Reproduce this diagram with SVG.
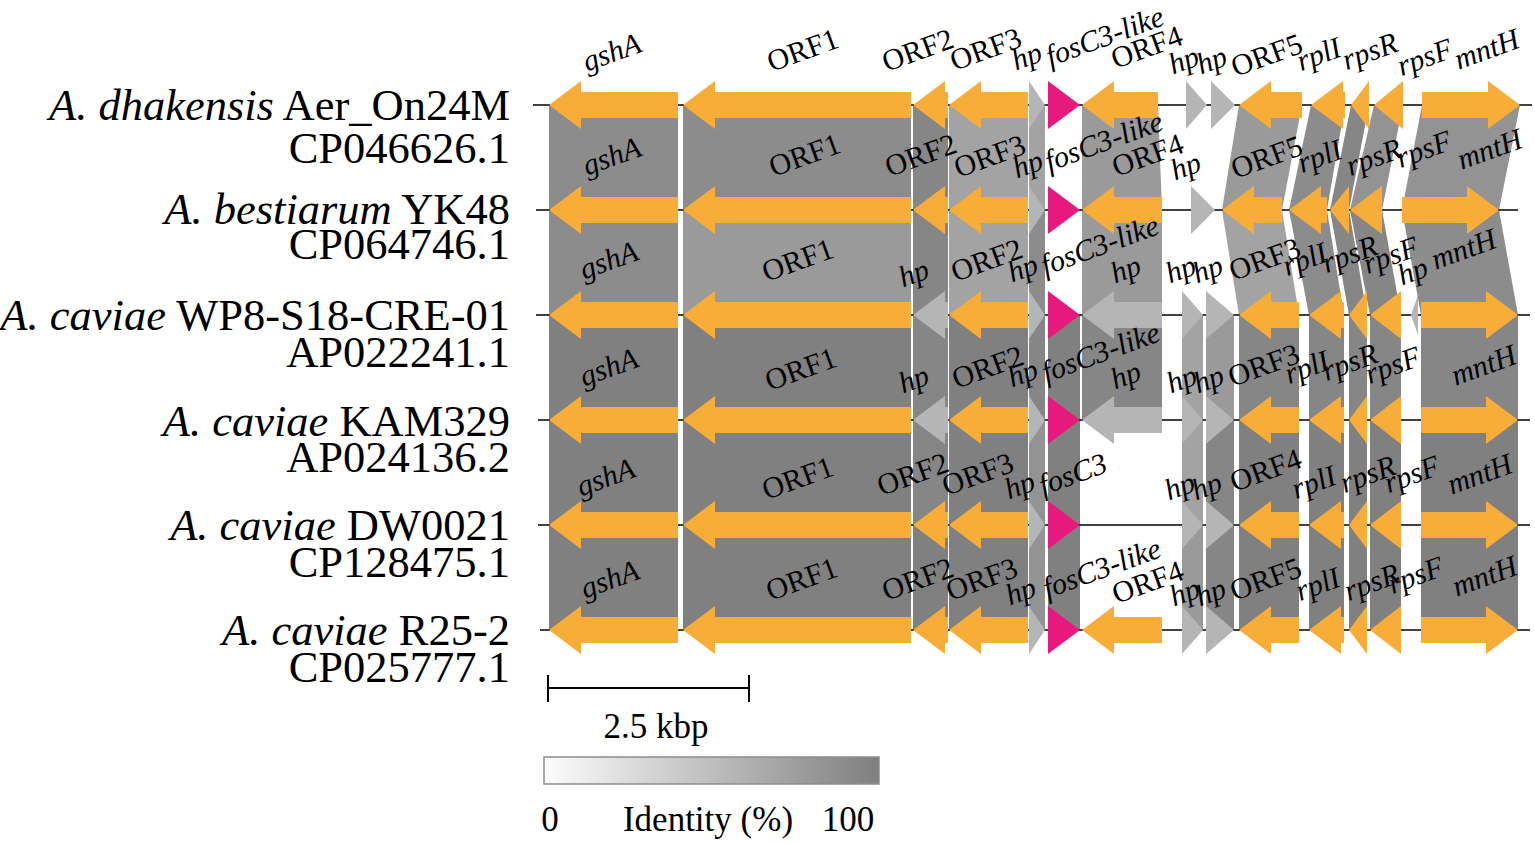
<svg xmlns="http://www.w3.org/2000/svg" width="1535" height="843" viewBox="0 0 1535 843">
<style>
.or{fill:#F8AD39}
.mg{fill:#E8197D}
.lg{fill:#B5B5B5}
.trk{stroke:#000;stroke-width:1.5;fill:none}
.g80{fill:#808080}.g86{fill:#868686}.g8c{fill:#8C8C8C}.g93{fill:#939393}.g9a{fill:#9A9A9A}.ga3{fill:#A3A3A3}
.lab{font-family:"Liberation Serif","Times New Roman",serif;font-size:30px;fill:#000;text-anchor:middle}
.it{font-style:italic}
.sp{font-family:"Liberation Serif","Times New Roman",serif;font-size:44.5px;fill:#000;text-anchor:end}
.leg{font-family:"Liberation Serif","Times New Roman",serif;font-size:35px;fill:#000}
</style>
<defs>
<linearGradient id="idg" x1="0" y1="0" x2="1" y2="0">
<stop offset="0" stop-color="#FCFCFC"/>
<stop offset="1" stop-color="#7F7F7F"/>
</linearGradient>
</defs>
<rect width="1535" height="843" fill="#fff"/>

<g id="connectors">
<polygon class="g8c" points="549,105 678,105 678,210 549,210"/>
<polygon class="g8c" points="683,105 911,105 911,210 683,210"/>
<polygon class="g86" points="913,105 948,105 948,210 913,210"/>
<polygon class="ga3" points="949,105 1028,105 1028,210 949,210"/>
<polygon class="ga3" points="1029,105 1045,105 1045,210 1029,210"/>
<polygon class="g9a" points="1082,105 1158,105 1162,210 1082,210"/>
<polygon class="g9a" points="1239,105 1302,105 1282,210 1222,210"/>
<polygon class="g8c" points="1311,105 1345,105 1327,210 1289,210"/>
<polygon class="g86" points="1351,105 1369,105 1349,210 1330,210"/>
<polygon class="g93" points="1374,105 1403,105 1382,210 1350,210"/>
<polygon class="g93" points="1422,105 1520,105 1499,210 1402,210"/>
<polygon class="g8c" points="549,210 678,210 678,315 549,315"/>
<polygon class="g9a" points="683,210 911,210 911,315 683,315"/>
<polygon class="g86" points="913,210 948,210 948,315 913,315"/>
<polygon class="ga3" points="949,210 1028,210 1028,315 949,315"/>
<polygon class="g8c" points="1029,210 1045,210 1045,315 1029,315"/>
<polygon class="g9a" points="1082,210 1162,210 1162,315 1082,315"/>
<polygon class="ga3" points="1222,210 1282,210 1299,315 1239,315"/>
<polygon class="g8c" points="1289,210 1327,210 1344,315 1309,315"/>
<polygon class="g86" points="1330,210 1349,210 1367,315 1349,315"/>
<polygon class="g86" points="1350,210 1382,210 1401,315 1370,315"/>
<polygon class="g8c" points="1402,210 1499,210 1518,315 1421,315"/>
<polygon class="g80" points="549,315 678,315 678,420 549,420"/>
<polygon class="g80" points="683,315 911,315 911,420 683,420"/>
<polygon class="g86" points="913,315 948,315 948,420 913,420"/>
<polygon class="g80" points="949,315 1028,315 1028,420 949,420"/>
<polygon class="g86" points="1029,315 1045,315 1045,420 1029,420"/>
<polygon class="g80" points="1048,315 1080,315 1080,420 1048,420"/>
<polygon class="g86" points="1082,315 1162,315 1162,420 1082,420"/>
<polygon class="ga3" points="1182,315 1203,315 1203,420 1182,420"/>
<polygon class="g9a" points="1206,315 1234,315 1234,420 1206,420"/>
<polygon class="g86" points="1239,315 1299,315 1299,420 1239,420"/>
<polygon class="g86" points="1309,315 1344,315 1344,420 1309,420"/>
<polygon class="g86" points="1349,315 1367,315 1367,420 1349,420"/>
<polygon class="g86" points="1370,315 1401,315 1401,420 1370,420"/>
<polygon class="g86" points="1421,315 1518,315 1518,420 1421,420"/>
<polygon class="g80" points="549,420 678,420 678,525 549,525"/>
<polygon class="g80" points="683,420 911,420 911,525 683,525"/>
<polygon class="g86" points="913,420 948,420 948,525 913,525"/>
<polygon class="g80" points="949,420 1028,420 1028,525 949,525"/>
<polygon class="g93" points="1029,420 1045,420 1045,525 1029,525"/>
<polygon class="g80" points="1048,420 1080,420 1080,525 1048,525"/>
<polygon class="ga3" points="1182,420 1203,420 1203,525 1182,525"/>
<polygon class="g86" points="1206,420 1234,420 1234,525 1206,525"/>
<polygon class="g80" points="1239,420 1299,420 1299,525 1239,525"/>
<polygon class="g80" points="1309,420 1344,420 1344,525 1309,525"/>
<polygon class="g80" points="1349,420 1367,420 1367,525 1349,525"/>
<polygon class="g80" points="1370,420 1401,420 1401,525 1370,525"/>
<polygon class="g80" points="1421,420 1518,420 1518,525 1421,525"/>
<polygon class="g80" points="549,525 678,525 678,630 549,630"/>
<polygon class="g80" points="683,525 911,525 911,630 683,630"/>
<polygon class="g80" points="913,525 948,525 948,630 913,630"/>
<polygon class="g80" points="949,525 1028,525 1028,630 949,630"/>
<polygon class="g93" points="1029,525 1045,525 1045,630 1029,630"/>
<polygon class="g80" points="1048,525 1080,525 1080,630 1048,630"/>
<polygon class="g9a" points="1182,525 1203,525 1203,630 1182,630"/>
<polygon class="g86" points="1206,525 1234,525 1234,630 1206,630"/>
<polygon class="g80" points="1239,525 1299,525 1299,630 1239,630"/>
<polygon class="g80" points="1309,525 1344,525 1344,630 1309,630"/>
<polygon class="g80" points="1349,525 1367,525 1367,630 1349,630"/>
<polygon class="g80" points="1370,525 1401,525 1401,630 1370,630"/>
<polygon class="g80" points="1421,525 1518,525 1518,630 1421,630"/>
</g>

<g id="genome1">
<line class="trk" x1="533" y1="105" x2="1532" y2="105"/>
<polygon class="or" points="549,105 581,81 581,92 678,92 678,118 581,118 581,129"/>
<polygon class="or" points="683,105 715,81 715,92 911,92 911,118 715,118 715,129"/>
<polygon class="or" points="913,105 945,81 945,92 948,92 948,118 945,118 945,129"/>
<polygon class="or" points="949,105 981,81 981,92 1028,92 1028,118 981,118 981,129"/>
<polygon class="lg" points="1029,81 1045,105 1029,129"/>
<polygon class="mg" points="1048,81 1080,105 1048,129"/>
<polygon class="or" points="1082,105 1114,81 1114,92 1158,92 1158,118 1114,118 1114,129"/>
<polygon class="lg" points="1186,81 1207,105 1186,129"/>
<polygon class="lg" points="1211,81 1235,105 1211,129"/>
<polygon class="or" points="1239,105 1271,81 1271,92 1302,92 1302,118 1271,118 1271,129"/>
<polygon class="or" points="1311,105 1343,81 1343,92 1345,92 1345,118 1343,118 1343,129"/>
<polygon class="or" points="1351,105 1369,81 1369,129"/>
<polygon class="or" points="1374,105 1403,81 1403,129"/>
<polygon class="or" points="1422,92 1488,92 1488,81 1520,105 1488,129 1488,118 1422,118"/>
<text class="sp" x="510" y="120"><tspan font-style="italic">A. dhakensis</tspan> Aer_On24M</text>
<text class="sp" x="510" y="163">CP046626.1</text>
<text class="lab it" transform="translate(612,53) rotate(-20)" y="9">gshA</text>
<text class="lab" transform="translate(803,51) rotate(-20)" y="9">ORF1</text>
<text class="lab" transform="translate(918,51) rotate(-20)" y="9">ORF2</text>
<text class="lab" transform="translate(986,50) rotate(-20)" y="9">ORF3</text>
<text class="lab it" transform="translate(1027,57) rotate(-20)" y="9">hp</text>
<text class="lab it" transform="translate(1105,37) rotate(-20)" y="9">fosC3-like</text>
<text class="lab" transform="translate(1147,48) rotate(-20)" y="9">ORF4</text>
<text class="lab it" transform="translate(1184,61) rotate(-20)" y="9">hp</text>
<text class="lab it" transform="translate(1212,61) rotate(-20)" y="9">hp</text>
<text class="lab" transform="translate(1267,56) rotate(-20)" y="9">ORF5</text>
<text class="lab it" transform="translate(1319,55) rotate(-20)" y="9">rplI</text>
<text class="lab it" transform="translate(1370,52) rotate(-20)" y="9">rpsR</text>
<text class="lab it" transform="translate(1425,58) rotate(-20)" y="9">rpsF</text>
<text class="lab it" transform="translate(1487,50) rotate(-20)" y="9">mntH</text>
</g>

<g id="genome2">
<line class="trk" x1="536" y1="210" x2="1518" y2="210"/>
<polygon class="or" points="549,210 581,186 581,197 678,197 678,223 581,223 581,234"/>
<polygon class="or" points="683,210 715,186 715,197 911,197 911,223 715,223 715,234"/>
<polygon class="or" points="913,210 945,186 945,197 948,197 948,223 945,223 945,234"/>
<polygon class="or" points="949,210 981,186 981,197 1028,197 1028,223 981,223 981,234"/>
<polygon class="lg" points="1029,186 1045,210 1029,234"/>
<polygon class="mg" points="1048,186 1080,210 1048,234"/>
<polygon class="or" points="1082,210 1114,186 1114,197 1162,197 1162,223 1114,223 1114,234"/>
<polygon class="lg" points="1191,186 1215,210 1191,234"/>
<polygon class="or" points="1222,210 1254,186 1254,197 1282,197 1282,223 1254,223 1254,234"/>
<polygon class="or" points="1289,210 1321,186 1321,197 1327,197 1327,223 1321,223 1321,234"/>
<polygon class="or" points="1330,210 1349,186 1349,234"/>
<polygon class="or" points="1350,210 1382,186 1382,234"/>
<polygon class="or" points="1402,197 1467,197 1467,186 1499,210 1467,234 1467,223 1402,223"/>
<text class="sp" x="510" y="224"><tspan font-style="italic">A. bestiarum</tspan> YK48</text>
<text class="sp" x="510" y="259">CP064746.1</text>
<text class="lab it" transform="translate(612,157) rotate(-20)" y="9">gshA</text>
<text class="lab" transform="translate(805,156) rotate(-20)" y="9">ORF1</text>
<text class="lab" transform="translate(921,156) rotate(-20)" y="9">ORF2</text>
<text class="lab" transform="translate(990,157) rotate(-20)" y="9">ORF3</text>
<text class="lab it" transform="translate(1028,165) rotate(-20)" y="9">hp</text>
<text class="lab it" transform="translate(1104,142) rotate(-20)" y="9">fosC3-like</text>
<text class="lab" transform="translate(1148,156) rotate(-20)" y="9">ORF4</text>
<text class="lab it" transform="translate(1186,167) rotate(-20)" y="9">hp</text>
<text class="lab" transform="translate(1267,158) rotate(-20)" y="9">ORF5</text>
<text class="lab it" transform="translate(1320,157) rotate(-20)" y="9">rplI</text>
<text class="lab it" transform="translate(1374,158) rotate(-20)" y="9">rpsR</text>
<text class="lab it" transform="translate(1424,150) rotate(-20)" y="9">rpsF</text>
<text class="lab it" transform="translate(1490,150) rotate(-20)" y="9">mntH</text>
</g>

<g id="genome3">
<line class="trk" x1="536" y1="315" x2="1530" y2="315"/>
<polygon class="or" points="549,315 581,291 581,302 678,302 678,328 581,328 581,339"/>
<polygon class="or" points="683,315 715,291 715,302 911,302 911,328 715,328 715,339"/>
<polygon class="lg" points="913,315 945,291 945,302 948,302 948,328 945,328 945,339"/>
<polygon class="or" points="949,315 981,291 981,302 1028,302 1028,328 981,328 981,339"/>
<polygon class="lg" points="1029,291 1045,315 1029,339"/>
<polygon class="mg" points="1048,291 1080,315 1048,339"/>
<polygon class="lg" points="1082,315 1114,291 1114,302 1162,302 1162,328 1114,328 1114,339"/>
<polygon class="lg" points="1182,291 1203,315 1182,339"/>
<polygon class="lg" points="1206,291 1234,315 1206,339"/>
<polygon class="or" points="1239,315 1271,291 1271,302 1299,302 1299,328 1271,328 1271,339"/>
<polygon class="or" points="1309,315 1341,291 1341,302 1344,302 1344,328 1341,328 1341,339"/>
<polygon class="or" points="1349,315 1367,291 1367,339"/>
<polygon class="or" points="1370,315 1401,291 1401,339"/>
<polygon class="lg" points="1411,315 1418,295 1418,335"/>
<polygon class="or" points="1421,302 1486,302 1486,291 1518,315 1486,339 1486,328 1421,328"/>
<text class="sp" x="510" y="330"><tspan font-style="italic">A. caviae</tspan> WP8-S18-CRE-01</text>
<text class="sp" x="510" y="367">AP022241.1</text>
<text class="lab it" transform="translate(609,261) rotate(-20)" y="9">gshA</text>
<text class="lab" transform="translate(798,261) rotate(-20)" y="9">ORF1</text>
<text class="lab it" transform="translate(914,274) rotate(-20)" y="9">hp</text>
<text class="lab" transform="translate(987,261) rotate(-20)" y="9">ORF2</text>
<text class="lab it" transform="translate(1023,269) rotate(-20)" y="9">hp</text>
<text class="lab it" transform="translate(1100,246) rotate(-20)" y="9">fosC3-like</text>
<text class="lab it" transform="translate(1126,270) rotate(-20)" y="9">hp</text>
<text class="lab it" transform="translate(1181,270) rotate(-20)" y="9">hp</text>
<text class="lab it" transform="translate(1208,270) rotate(-20)" y="9">hp</text>
<text class="lab" transform="translate(1265,260) rotate(-20)" y="9">ORF3</text>
<text class="lab it" transform="translate(1305,260) rotate(-20)" y="9">rplI</text>
<text class="lab it" transform="translate(1350,255) rotate(-20)" y="9">rpsR</text>
<text class="lab it" transform="translate(1391,256) rotate(-20)" y="9">rpsF</text>
<text class="lab it" transform="translate(1413,272) rotate(-20)" y="9">hp</text>
<text class="lab it" transform="translate(1464,250) rotate(-20)" y="9">mntH</text>
</g>

<g id="genome4">
<line class="trk" x1="538" y1="420" x2="1530" y2="420"/>
<polygon class="or" points="549,420 581,396 581,407 678,407 678,433 581,433 581,444"/>
<polygon class="or" points="683,420 715,396 715,407 911,407 911,433 715,433 715,444"/>
<polygon class="lg" points="913,420 945,396 945,407 948,407 948,433 945,433 945,444"/>
<polygon class="or" points="949,420 981,396 981,407 1028,407 1028,433 981,433 981,444"/>
<polygon class="lg" points="1029,396 1045,420 1029,444"/>
<polygon class="mg" points="1048,396 1080,420 1048,444"/>
<polygon class="lg" points="1082,420 1114,396 1114,407 1162,407 1162,433 1114,433 1114,444"/>
<polygon class="lg" points="1182,396 1203,420 1182,444"/>
<polygon class="lg" points="1206,396 1234,420 1206,444"/>
<polygon class="or" points="1239,420 1271,396 1271,407 1299,407 1299,433 1271,433 1271,444"/>
<polygon class="or" points="1309,420 1341,396 1341,407 1344,407 1344,433 1341,433 1341,444"/>
<polygon class="or" points="1349,420 1367,396 1367,444"/>
<polygon class="or" points="1370,420 1401,396 1401,444"/>
<polygon class="or" points="1421,407 1486,407 1486,396 1518,420 1486,444 1486,433 1421,433"/>
<text class="sp" x="510" y="436"><tspan font-style="italic">A. caviae</tspan> KAM329</text>
<text class="sp" x="510" y="472">AP024136.2</text>
<text class="lab it" transform="translate(609,368) rotate(-20)" y="9">gshA</text>
<text class="lab" transform="translate(801,370) rotate(-20)" y="9">ORF1</text>
<text class="lab it" transform="translate(914,380) rotate(-20)" y="9">hp</text>
<text class="lab" transform="translate(988,368) rotate(-20)" y="9">ORF2</text>
<text class="lab it" transform="translate(1023,374) rotate(-20)" y="9">hp</text>
<text class="lab it" transform="translate(1101,353) rotate(-20)" y="9">fosC3-like</text>
<text class="lab it" transform="translate(1126,376) rotate(-20)" y="9">hp</text>
<text class="lab it" transform="translate(1182,380) rotate(-20)" y="9">hp</text>
<text class="lab it" transform="translate(1209,380) rotate(-20)" y="9">hp</text>
<text class="lab" transform="translate(1264,366) rotate(-20)" y="9">ORF3</text>
<text class="lab it" transform="translate(1307,368) rotate(-20)" y="9">rplI</text>
<text class="lab it" transform="translate(1350,363) rotate(-20)" y="9">rpsR</text>
<text class="lab it" transform="translate(1393,366) rotate(-20)" y="9">rpsF</text>
<text class="lab it" transform="translate(1484,366) rotate(-20)" y="9">mntH</text>
</g>

<g id="genome5">
<line class="trk" x1="538" y1="525" x2="1530" y2="525"/>
<polygon class="or" points="549,525 581,501 581,512 678,512 678,538 581,538 581,549"/>
<polygon class="or" points="683,525 715,501 715,512 911,512 911,538 715,538 715,549"/>
<polygon class="or" points="913,525 945,501 945,512 948,512 948,538 945,538 945,549"/>
<polygon class="or" points="949,525 981,501 981,512 1028,512 1028,538 981,538 981,549"/>
<polygon class="lg" points="1029,501 1045,525 1029,549"/>
<polygon class="mg" points="1048,501 1080,525 1048,549"/>
<polygon class="lg" points="1182,501 1203,525 1182,549"/>
<polygon class="lg" points="1206,501 1234,525 1206,549"/>
<polygon class="or" points="1239,525 1271,501 1271,512 1299,512 1299,538 1271,538 1271,549"/>
<polygon class="or" points="1309,525 1341,501 1341,512 1344,512 1344,538 1341,538 1341,549"/>
<polygon class="or" points="1349,525 1367,501 1367,549"/>
<polygon class="or" points="1370,525 1401,501 1401,549"/>
<polygon class="or" points="1421,512 1486,512 1486,501 1518,525 1486,549 1486,538 1421,538"/>
<text class="sp" x="510" y="540"><tspan font-style="italic">A. caviae</tspan> DW0021</text>
<text class="sp" x="510" y="577">CP128475.1</text>
<text class="lab it" transform="translate(606,478) rotate(-20)" y="9">gshA</text>
<text class="lab" transform="translate(798,479) rotate(-20)" y="9">ORF1</text>
<text class="lab" transform="translate(913,475) rotate(-20)" y="9">ORF2</text>
<text class="lab" transform="translate(978,475) rotate(-20)" y="9">ORF3</text>
<text class="lab it" transform="translate(1020,486) rotate(-20)" y="9">hp</text>
<text class="lab it" transform="translate(1073,475) rotate(-20)" y="9">fosC3</text>
<text class="lab it" transform="translate(1180,487) rotate(-20)" y="9">hp</text>
<text class="lab it" transform="translate(1207,487) rotate(-20)" y="9">hp</text>
<text class="lab" transform="translate(1266,471) rotate(-20)" y="9">ORF4</text>
<text class="lab it" transform="translate(1314,483) rotate(-20)" y="9">rplI</text>
<text class="lab it" transform="translate(1368,475) rotate(-20)" y="9">rpsR</text>
<text class="lab it" transform="translate(1412,475) rotate(-20)" y="9">rpsF</text>
<text class="lab it" transform="translate(1480,475) rotate(-20)" y="9">mntH</text>
</g>

<g id="genome6">
<line class="trk" x1="540" y1="630" x2="1530" y2="630"/>
<polygon class="or" points="549,630 581,606 581,617 678,617 678,643 581,643 581,654"/>
<polygon class="or" points="683,630 715,606 715,617 911,617 911,643 715,643 715,654"/>
<polygon class="or" points="913,630 945,606 945,617 948,617 948,643 945,643 945,654"/>
<polygon class="or" points="949,630 981,606 981,617 1028,617 1028,643 981,643 981,654"/>
<polygon class="lg" points="1029,606 1045,630 1029,654"/>
<polygon class="mg" points="1048,606 1080,630 1048,654"/>
<polygon class="or" points="1082,630 1114,606 1114,617 1162,617 1162,643 1114,643 1114,654"/>
<polygon class="lg" points="1182,606 1203,630 1182,654"/>
<polygon class="lg" points="1206,606 1234,630 1206,654"/>
<polygon class="or" points="1239,630 1271,606 1271,617 1299,617 1299,643 1271,643 1271,654"/>
<polygon class="or" points="1309,630 1341,606 1341,617 1344,617 1344,643 1341,643 1341,654"/>
<polygon class="or" points="1349,630 1367,606 1367,654"/>
<polygon class="or" points="1370,630 1401,606 1401,654"/>
<polygon class="or" points="1421,617 1486,617 1486,606 1518,630 1486,654 1486,643 1421,643"/>
<text class="sp" x="510" y="645"><tspan font-style="italic">A. caviae</tspan> R25-2</text>
<text class="sp" x="510" y="682">CP025777.1</text>
<text class="lab it" transform="translate(610,580) rotate(-20)" y="9">gshA</text>
<text class="lab" transform="translate(802,580) rotate(-20)" y="9">ORF1</text>
<text class="lab" transform="translate(918,580) rotate(-20)" y="9">ORF2</text>
<text class="lab" transform="translate(982,580) rotate(-20)" y="9">ORF3</text>
<text class="lab it" transform="translate(1021,592) rotate(-20)" y="9">hp</text>
<text class="lab it" transform="translate(1102,569) rotate(-20)" y="9">fosC3-like</text>
<text class="lab" transform="translate(1148,583) rotate(-20)" y="9">ORF4</text>
<text class="lab it" transform="translate(1185,593) rotate(-20)" y="9">hp</text>
<text class="lab it" transform="translate(1211,593) rotate(-20)" y="9">hp</text>
<text class="lab" transform="translate(1266,580) rotate(-20)" y="9">ORF5</text>
<text class="lab it" transform="translate(1318,585) rotate(-20)" y="9">rplI</text>
<text class="lab it" transform="translate(1372,583) rotate(-20)" y="9">rpsR</text>
<text class="lab it" transform="translate(1416,576) rotate(-20)" y="9">rpsF</text>
<text class="lab it" transform="translate(1485,577) rotate(-20)" y="9">mntH</text>
</g>

<g id="scalebar">
<line x1="548" y1="688" x2="749" y2="688" stroke="#000" stroke-width="2"/>
<line x1="548" y1="675" x2="548" y2="702" stroke="#000" stroke-width="2"/>
<line x1="749" y1="675" x2="749" y2="702" stroke="#000" stroke-width="2"/>
<text class="leg" x="656" y="738" text-anchor="middle">2.5 kbp</text>
</g>

<g id="identity-legend">
<rect x="544" y="757" width="335" height="27" fill="url(#idg)" stroke="#8C8C8C" stroke-width="1.5"/>
<text class="leg" x="550" y="831" text-anchor="middle">0</text>
<text class="leg" x="708" y="831" text-anchor="middle">Identity (%)</text>
<text class="leg" x="848" y="831" text-anchor="middle">100</text>
</g>
</svg>
